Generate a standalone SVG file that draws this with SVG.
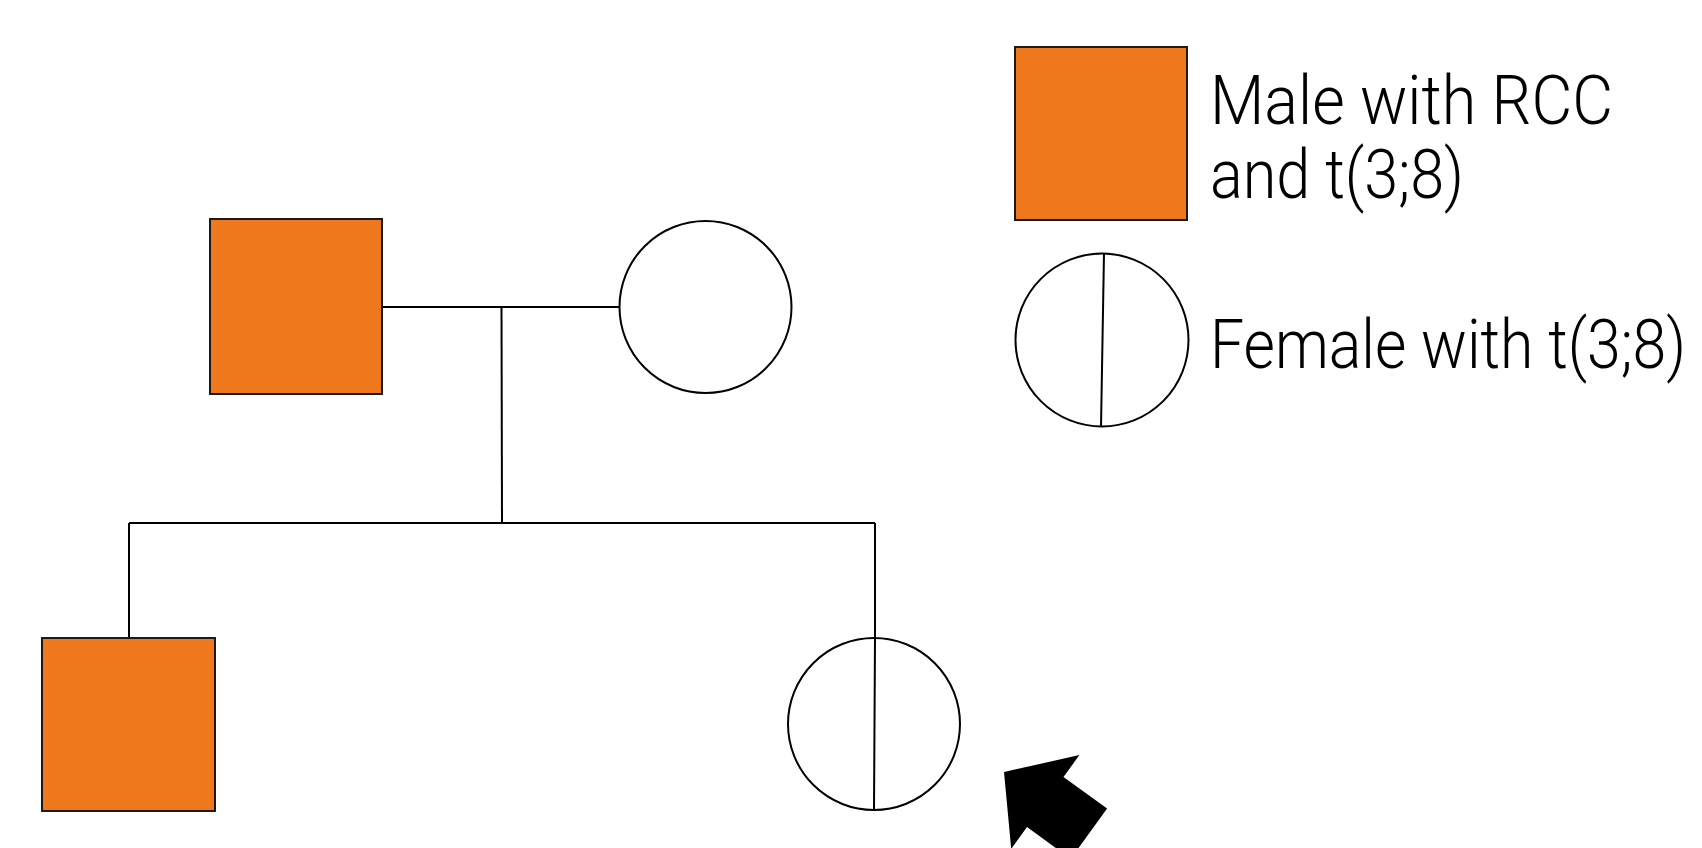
<svg xmlns="http://www.w3.org/2000/svg" width="1702" height="848" viewBox="0 0 1702 848">
<style>
.line{stroke:#000;stroke-width:2;fill:none}
.male{fill:#EF781C;stroke:#1a1a1a;stroke-width:2}
.female{fill:#fff;stroke:#000;stroke-width:2}
.lbl{font-family:Roboto,"Liberation Sans",sans-serif;font-weight:300;font-size:68px;fill:#000}
</style>
<rect width="1702" height="848" fill="#fff"/>
<g id="connectors">
<line class="line" x1="382" y1="307" x2="620" y2="307"/>
<line class="line" x1="501.5" y1="307" x2="502" y2="523"/>
<line class="line" x1="129" y1="523" x2="875" y2="523"/>
<line class="line" x1="129" y1="523" x2="129" y2="638"/>
<line class="line" x1="875" y1="523" x2="875" y2="638"/>
</g>
<g id="father"><rect class="male" x="210" y="219" width="172" height="175"/></g>
<g id="mother"><circle class="female" cx="705.5" cy="307" r="86"/></g>
<g id="son"><rect class="male" x="42" y="638" width="173" height="173"/></g>
<g id="daughter"><circle class="female" cx="874" cy="724" r="86"/><line class="line" x1="875" y1="638" x2="874" y2="810"/></g>
<g id="arrow"><polygon points="1004,772 1079.4,755.1 1063.5,776.9 1107.1,808.6 1070.7,858.8 1027,827.1 1011.2,848.9" fill="#000"/></g>
<g id="legend-male"><rect class="male" x="1015" y="47" width="172" height="173"/>
<text class="lbl" x="1210" y="124" textLength="403" lengthAdjust="spacingAndGlyphs">Male with RCC</text>
<text class="lbl" x="1210" y="198" textLength="254" lengthAdjust="spacingAndGlyphs">and t(3;8)</text></g>
<g id="legend-female"><circle class="female" cx="1102" cy="340" r="86.5"/><line class="line" x1="1104" y1="253" x2="1101" y2="427"/>
<text class="lbl" transform="translate(1210,368) scale(0.88,1)" x="0" y="0" textLength="541" lengthAdjust="spacingAndGlyphs">Female with t(3;8)</text></g>
</svg>
